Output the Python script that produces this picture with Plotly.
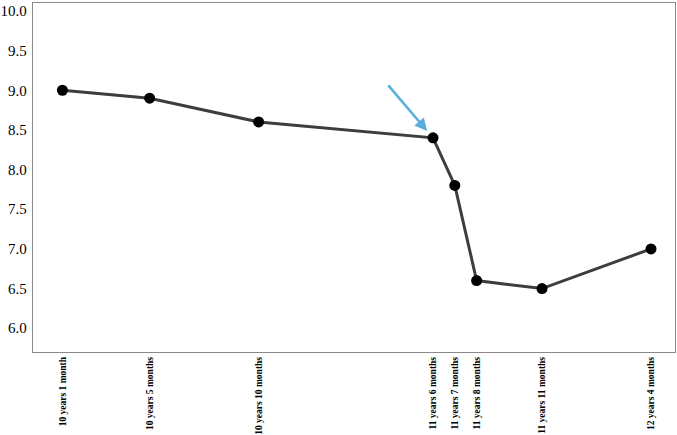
import plotly.graph_objects as go

age_labels = ["10 years 1 month", "10 years 5 months", "10 years 10 months",
              "11 years 6 months", "11 years 7 months", "11 years 8 months",
              "11 years 11 months", "12 years 4 months"]
age_months = [121, 125, 130, 138, 139, 140, 143, 148]
values = [9.0, 8.9, 8.6, 8.4, 7.8, 6.6, 6.5, 7.0]
y_ticks = [6.0, 6.5, 7.0, 7.5, 8.0, 8.5, 9.0, 9.5, 10.0]

fig = go.Figure()
fig.add_trace(go.Scatter(
    x=age_months, y=values, mode="lines+markers",
    line=dict(color="#3d3d3d", width=3),
    marker=dict(color="black", size=11),
    showlegend=False,
))

fig.add_annotation(
    x=age_months[3], y=values[3], xref="x", yref="y",
    ax=-46, ay=-54, axref="pixel", ayref="pixel",
    showarrow=True, arrowhead=2, arrowsize=1, arrowwidth=2.5,
    arrowcolor="#5aaedb", standoff=9, text="",
)

fig.update_layout(
    width=677, height=435,
    margin=dict(l=33, r=2, t=3, b=83),
    paper_bgcolor="white", plot_bgcolor="white",
    font=dict(family="Liberation Serif", color="black"),
)
fig.update_xaxes(
    range=[119.65, 149.1], tickvals=age_months, ticktext=age_labels,
    tickangle=-90, tickfont=dict(size=9.5, family="Liberation Serif", weight="bold"),
    showgrid=False, zeroline=False, showline=True, mirror=True,
    linecolor="#8a8a8a", linewidth=1.3, ticks="", automargin=False,
)
fig.update_yaxes(
    range=[5.7, 10.1], tickvals=y_ticks, ticktext=[f"{v:.1f}" for v in y_ticks],
    tickfont=dict(size=15, family="Liberation Serif"),
    showgrid=False, zeroline=False, showline=True, mirror=True,
    linecolor="#8a8a8a", linewidth=1.3, ticks="", ticklabelstandoff=2,
    automargin=False,
)

fig.write_html(
    "out.html",
    config={"displayModeBar": False},
    post_script="document.body.style.margin='0';document.body.style.padding='0';",
)
